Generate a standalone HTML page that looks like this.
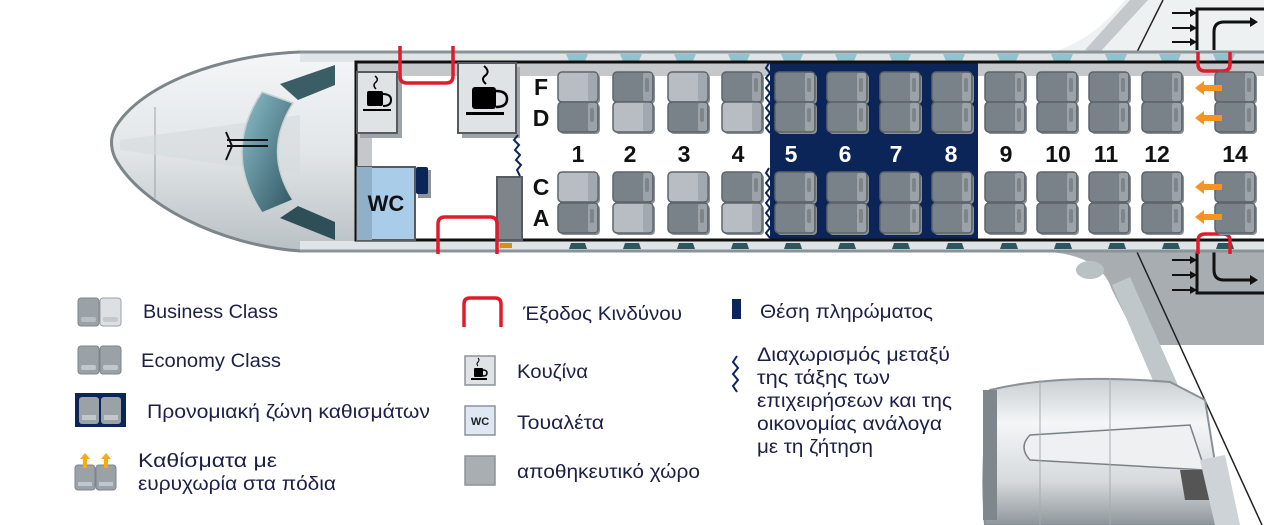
<!DOCTYPE html>
<html><head><meta charset="utf-8"><style>
html,body{margin:0;padding:0;background:#fff;width:1264px;height:525px;overflow:hidden}
svg{display:block}
.n{font-family:"Liberation Sans",sans-serif;font-weight:bold;font-size:23px;text-anchor:middle}
.l{font-family:"Liberation Sans","DejaVu Sans",sans-serif;font-size:19px;fill:#1c2048}
.g{font-family:"Liberation Sans","DejaVu Sans",sans-serif;font-size:19px;fill:#1c2048}
</style></head><body>
<svg width="1264" height="525" viewBox="0 0 1264 525" xmlns="http://www.w3.org/2000/svg">
<defs>
<linearGradient id="nose" x1="0" y1="0" x2="0" y2="1"><stop offset="0" stop-color="#f4f6f7"/><stop offset="0.5" stop-color="#e2e6e8"/><stop offset="1" stop-color="#b9c0c4"/></linearGradient>
<linearGradient id="wind" x1="0" y1="0" x2="1" y2="1"><stop offset="0" stop-color="#8cc0cc"/><stop offset="1" stop-color="#2f5560"/></linearGradient>
<linearGradient id="eng" x1="0" y1="0" x2="0" y2="1"><stop offset="0" stop-color="#c9ced2"/><stop offset="0.3" stop-color="#f4f6f7"/><stop offset="0.7" stop-color="#d6dadd"/><stop offset="1" stop-color="#8f969b"/></linearGradient>
<g id="se"><rect x="2" y="2" width="40" height="30" rx="4" fill="#8a9096"/><rect x="0" y="0" width="40" height="30" rx="4" fill="#7a8289" stroke="#5c646a" stroke-width="1.5"/><rect x="30" y="1" width="9" height="28" rx="2" fill="#9ba2a8"/><rect x="32" y="6" width="4" height="14" rx="2" fill="#7d858b"/></g>
<g id="sl"><rect x="2" y="2" width="40" height="30" rx="4" fill="#8a9096"/><rect x="0" y="0" width="40" height="30" rx="4" fill="#b8bdc4" stroke="#5c646a" stroke-width="1.5"/><rect x="30" y="1" width="9" height="28" rx="2" fill="#a2a8af"/></g>
</defs>

<!-- top wing -->
<path d="M1040 56 C1080 45 1100 30 1125 0 L1264 0 L1264 56 Z" fill="#eef1f2"/>
<path d="M1085 50 L1130 0 L1148 0 L1100 52 Z" fill="#c2c8cc"/>
<line x1="1137" y1="52" x2="1163" y2="0" stroke="#222" stroke-width="1.5"/>
<path d="M1197 50 L1197 9 L1264 9" fill="none" stroke="#111" stroke-width="3"/>
<path d="M1214 50 L1214 32 Q1214 22 1224 22 L1250 22" fill="none" stroke="#111" stroke-width="3"/>
<path d="M1250 17 L1258 22 L1250 27 Z" fill="#111"/>
<g stroke="#111" stroke-width="2"><line x1="1172" y1="13" x2="1192" y2="13"/><line x1="1172" y1="28" x2="1192" y2="28"/><line x1="1172" y1="42" x2="1192" y2="42"/></g>
<g fill="#111"><path d="M1190 9 L1197 13 L1190 17Z"/><path d="M1190 24 L1197 28 L1190 32Z"/><path d="M1190 38 L1197 42 L1190 46Z"/></g>

<!-- bottom wing -->
<path d="M1050 252 C1085 255 1105 268 1112 290 L1140 345 L1264 345 L1264 252 Z" fill="#a8adb1"/>
<path d="M1112 285 L1130 277 L1240 525 L1215 525 Z" fill="#c0c7cb"/>
<ellipse cx="1090" cy="270" rx="14" ry="9" fill="#b9c1c5"/>
<line x1="1137" y1="252" x2="1262" y2="525" stroke="#222" stroke-width="1.5"/>
<path d="M1197 252 L1197 293 L1264 293" fill="none" stroke="#111" stroke-width="3"/>
<path d="M1214 252 L1214 270 Q1214 280 1224 280 L1250 280" fill="none" stroke="#111" stroke-width="3"/>
<path d="M1250 275 L1258 280 L1250 285 Z" fill="#111"/>
<g stroke="#111" stroke-width="2"><line x1="1172" y1="260" x2="1192" y2="260"/><line x1="1172" y1="275" x2="1192" y2="275"/><line x1="1172" y1="290" x2="1192" y2="290"/></g>
<g fill="#111"><path d="M1190 256 L1197 260 L1190 264Z"/><path d="M1190 271 L1197 275 L1190 279Z"/><path d="M1190 286 L1197 290 L1190 294Z"/></g>
<!-- engine -->
<path d="M990 390 Q1060 373 1170 382 L1205 400 L1225 525 L985 525 Q980 460 990 390 Z" fill="url(#eng)" stroke="#8a9196" stroke-width="2"/>
<rect x="983" y="390" width="14" height="130" fill="#7f878c"/>
<path d="M1030 435 L1190 425 L1205 470 L1030 460 Q1018 447 1030 435 Z" fill="#eef0f1" stroke="#7a8186" stroke-width="1.5"/>
<line x1="1040" y1="380" x2="1040" y2="525" stroke="#a5acb0"/><line x1="1110" y1="378" x2="1110" y2="525" stroke="#a5acb0"/>
<path d="M1180 470 L1205 470 L1215 500 L1185 500 Z" fill="#555"/>
<path d="M1200 460 L1225 455 L1240 525 L1215 525 Z" fill="#cdd3d6"/>

<!-- nose -->
<path d="M360 52 L300 52 C220 55 140 85 115 128 Q108 142 115 158 C140 205 220 245 300 251 L360 251 Z" fill="url(#nose)" stroke="#7c858a" stroke-width="3"/>
<line x1="155" y1="107" x2="155" y2="198" stroke="#9aa2a6" stroke-width="1"/>
<path d="M120 140 L300 115 L300 175 L120 150 Z" fill="#d6dbde" opacity="0.6"/>
<path d="M262 92 L293 103 Q262 152 293 200 L262 213 Q222 152 262 92 Z" fill="url(#wind)" stroke="#c9d0d3" stroke-width="1.5"/>
<path d="M280 84 L335 65 L335 85 L298 100 Z" fill="#3b5d66"/>
<path d="M280 218 L335 240 L335 222 L298 206 Z" fill="#2e4f58"/>
<path d="M227 140 L268 140 M227 146 L268 146 M226 132 L232 146 L226 160" fill="none" stroke="#111" stroke-width="2"/>

<!-- fuselage strips -->
<rect x="300" y="52" width="964" height="10" fill="#dfe4e6"/>
<line x1="300" y1="52" x2="1264" y2="52" stroke="#8a9398" stroke-width="3"/>
<rect x="300" y="241" width="964" height="10" fill="#dfe4e6"/>
<line x1="300" y1="251" x2="1264" y2="251" stroke="#8a9398" stroke-width="3"/>
<g fill="#8fc3d0">
<path d="M566 54 h22 l-3 7 h-16z"/><path d="M620 54 h22 l-3 7 h-16z"/><path d="M674 54 h22 l-3 7 h-16z"/><path d="M728 54 h22 l-3 7 h-16z"/><path d="M781 54 h22 l-3 7 h-16z"/><path d="M835 54 h22 l-3 7 h-16z"/><path d="M889 54 h22 l-3 7 h-16z"/><path d="M943 54 h22 l-3 7 h-16z"/><path d="M997 54 h22 l-3 7 h-16z"/><path d="M1051 54 h22 l-3 7 h-16z"/><path d="M1105 54 h22 l-3 7 h-16z"/><path d="M1159 54 h22 l-3 7 h-16z"/><path d="M1213 54 h22 l-3 7 h-16z"/>
</g>
<g fill="#2d5660">
<path d="M569 249 h18 l-2 -6 h-14z"/><path d="M623 249 h18 l-2 -6 h-14z"/><path d="M677 249 h18 l-2 -6 h-14z"/><path d="M731 249 h18 l-2 -6 h-14z"/><path d="M784 249 h18 l-2 -6 h-14z"/><path d="M838 249 h18 l-2 -6 h-14z"/><path d="M892 249 h18 l-2 -6 h-14z"/><path d="M946 249 h18 l-2 -6 h-14z"/><path d="M1000 249 h18 l-2 -6 h-14z"/><path d="M1054 249 h18 l-2 -6 h-14z"/><path d="M1108 249 h18 l-2 -6 h-14z"/><path d="M1162 249 h18 l-2 -6 h-14z"/><path d="M1216 249 h18 l-2 -6 h-14z"/>
</g>

<!-- cabin -->
<rect x="356" y="63" width="908" height="177" fill="#fff"/>
<rect x="356" y="63" width="908" height="13" fill="#c4c8cb"/>
<rect x="356" y="63" width="16" height="177" fill="#c4c8cb"/>
<rect x="770" y="63" width="208" height="177" fill="#0c2558"/>
<path d="M1264 62 L356 62 L356 240 L1264 240" fill="none" stroke="#111" stroke-width="3"/>

<!-- galleys -->
<rect x="360" y="76" width="42" height="62" fill="#9ea4a8"/>
<rect x="357" y="72" width="40" height="61" fill="#dfe3e6" stroke="#555b60" stroke-width="2"/>
<rect x="462" y="67" width="58" height="71" fill="#9ea4a8"/>
<rect x="458" y="63" width="58" height="70" fill="#dfe3e6" stroke="#555b60" stroke-width="2"/>
<g fill="#000">
<rect x="367" y="91" width="16" height="15" rx="2"/><path d="M383 94 q8 0 8 6 q0 6 -8 6" fill="none" stroke="#000" stroke-width="2"/><rect x="363" y="109" width="28" height="2"/><path d="M376 89 q-4 -4 0 -7 q3 -3 -1 -6" fill="none" stroke="#000" stroke-width="1.5"/>
<rect x="472" y="87" width="24" height="22" rx="3"/><path d="M496 91 q11 0 11 8 q0 8 -11 8" fill="none" stroke="#000" stroke-width="2.5"/><rect x="466" y="112" width="38" height="3"/><path d="M486 84 q-6 -5 0 -9 q4 -4 -2 -9" fill="none" stroke="#000" stroke-width="2"/>
</g>
<!-- WC -->
<rect x="357" y="167" width="58" height="73" fill="#a9cde8" stroke="#555b60" stroke-width="2"/>
<rect x="357" y="167" width="15" height="73" fill="#8fb0c8"/>
<text x="386" y="211" font-family="Liberation Sans,sans-serif" font-weight="bold" font-size="22" text-anchor="middle" fill="#111">WC</text>
<rect x="418" y="170" width="13" height="28" fill="#8d9398"/>
<rect x="416" y="167" width="12" height="27" rx="2" fill="#0c2558"/>
<rect x="497" y="177" width="25" height="63" fill="#7d858b" stroke="#555b60" stroke-width="2"/>
<rect x="500" y="243" width="12" height="5" fill="#d88f1a"/>
<path d="M518 135 l-4 5 l5 5 l-4 5 l5 5 l-4 5 l5 5 l-4 5 l3 6" fill="none" stroke="#0c2558" stroke-width="2"/>
<!-- exits -->
<path d="M400 46 L400 76 Q400 83 407 83 L446 83 Q453 83 453 76 L453 46" fill="none" stroke="#e01b2a" stroke-width="3.5"/>
<path d="M438 254 L438 224 Q438 217 445 217 L490 217 Q497 217 497 224 L497 254" fill="none" stroke="#e01b2a" stroke-width="3.5"/>
<path d="M1198 52 L1198 64 Q1198 71 1205 71 L1223 71 Q1230 71 1230 64 L1230 52" fill="none" stroke="#e01b2a" stroke-width="3.5"/>
<path d="M1198 254 L1198 241 Q1198 234 1205 234 L1223 234 Q1230 234 1230 241 L1230 254" fill="none" stroke="#e01b2a" stroke-width="3.5"/>

<!-- separators -->
<g fill="none" stroke="#0c2558" stroke-width="2">
<path d="M769 63 l-3 5 l4 5 l-4 5 l4 5 l-4 5 l4 5 l-4 5 l4 5 l-4 5 l4 5 l-4 5 l4 5 l-4 5 l4 5"/>
<path d="M769 168 l-3 5 l4 5 l-4 5 l4 5 l-4 5 l4 5 l-4 5 l4 5 l-4 5 l4 5 l-4 5 l4 5 l-4 5 l4 5"/>
</g>

<!-- seats -->
<g>
<use href="#sl" x="558" y="72"/><use href="#se" x="558" y="102"/><use href="#sl" x="558" y="172"/><use href="#se" x="558" y="203"/>
<use href="#se" x="613" y="72"/><use href="#sl" x="613" y="102"/><use href="#se" x="613" y="172"/><use href="#sl" x="613" y="203"/>
<use href="#sl" x="668" y="72"/><use href="#se" x="668" y="102"/><use href="#sl" x="668" y="172"/><use href="#se" x="668" y="203"/>
<use href="#se" x="722" y="72"/><use href="#sl" x="722" y="102"/><use href="#se" x="722" y="172"/><use href="#sl" x="722" y="203"/>
<use href="#se" x="775" y="72"/><use href="#se" x="775" y="102"/><use href="#se" x="775" y="172"/><use href="#se" x="775" y="203"/>
<use href="#se" x="827" y="72"/><use href="#se" x="827" y="102"/><use href="#se" x="827" y="172"/><use href="#se" x="827" y="203"/>
<use href="#se" x="880" y="72"/><use href="#se" x="880" y="102"/><use href="#se" x="880" y="172"/><use href="#se" x="880" y="203"/>
<use href="#se" x="932" y="72"/><use href="#se" x="932" y="102"/><use href="#se" x="932" y="172"/><use href="#se" x="932" y="203"/>
<use href="#se" x="985" y="72"/><use href="#se" x="985" y="102"/><use href="#se" x="985" y="172"/><use href="#se" x="985" y="203"/>
<use href="#se" x="1037" y="72"/><use href="#se" x="1037" y="102"/><use href="#se" x="1037" y="172"/><use href="#se" x="1037" y="203"/>
<use href="#se" x="1089" y="72"/><use href="#se" x="1089" y="102"/><use href="#se" x="1089" y="172"/><use href="#se" x="1089" y="203"/>
<use href="#se" x="1142" y="72"/><use href="#se" x="1142" y="102"/><use href="#se" x="1142" y="172"/><use href="#se" x="1142" y="203"/>
<use href="#se" x="1215" y="72"/><use href="#se" x="1215" y="102"/><use href="#se" x="1215" y="172"/><use href="#se" x="1215" y="203"/>
</g>
<g fill="#f7931e">
<path d="M1195 88 l9 -7 v4 h18 v6 h-18 v4z"/><path d="M1195 118 l9 -7 v4 h18 v6 h-18 v4z"/><path d="M1195 187 l9 -7 v4 h18 v6 h-18 v4z"/><path d="M1195 217 l9 -7 v4 h18 v6 h-18 v4z"/>
</g>
<g class="n" fill="#111">
<text x="541" y="95">F</text><text x="541" y="126">D</text><text x="541" y="195">C</text><text x="541" y="226">A</text>
<text x="578" y="162">1</text><text x="630" y="162">2</text><text x="684" y="162">3</text><text x="738" y="162">4</text>
<text x="1006" y="162">9</text><text x="1058" y="162">10</text><text x="1106" y="162">11</text><text x="1157" y="162">12</text><text x="1235" y="162">14</text>
</g>
<g class="n" fill="#fff"><text x="791" y="162">5</text><text x="845" y="162">6</text><text x="896" y="162">7</text><text x="951" y="162">8</text></g>

<!-- legend -->
<g>
<rect x="78" y="298" width="21" height="28" rx="3" fill="#9aa1a7" stroke="#7d858b"/><rect x="100" y="298" width="21" height="28" rx="3" fill="#dde0e3" stroke="#9aa1a7"/>
<rect x="81" y="317" width="15" height="5" rx="2" fill="#b9bec3"/><rect x="103" y="317" width="15" height="5" rx="2" fill="#c5c9cd"/>
<rect x="78" y="346" width="21" height="28" rx="3" fill="#9aa1a7" stroke="#7d858b"/><rect x="100" y="346" width="21" height="28" rx="3" fill="#9aa1a7" stroke="#7d858b"/>
<rect x="81" y="365" width="15" height="5" rx="2" fill="#c2c7cb"/><rect x="103" y="365" width="15" height="5" rx="2" fill="#c2c7cb"/>
<rect x="75" y="393" width="51" height="34" fill="#0c2558"/>
<rect x="79" y="397" width="20" height="27" rx="3" fill="#9aa1a7"/><rect x="101" y="397" width="20" height="27" rx="3" fill="#9aa1a7"/>
<rect x="82" y="415" width="14" height="5" fill="#c2c7cb"/><rect x="104" y="415" width="14" height="5" fill="#c2c7cb"/>
<rect x="75" y="465" width="20" height="25" rx="3" fill="#9aa1a7" stroke="#7d858b"/><rect x="96" y="465" width="20" height="25" rx="3" fill="#9aa1a7" stroke="#7d858b"/>
<rect x="78" y="482" width="14" height="4" fill="#c2c7cb"/><rect x="99" y="482" width="14" height="4" fill="#c2c7cb"/>
<path d="M85 453 l5 6 h-3 v9 h-4 v-9 h-3z M106 453 l5 6 h-3 v9 h-4 v-9 h-3z" fill="#f7a81b"/>
<text class="l" x="143" y="318" textLength="135" lengthAdjust="spacingAndGlyphs">Business Class</text>
<text class="l" x="141" y="367" textLength="140" lengthAdjust="spacingAndGlyphs">Economy Class</text>
<text class="l" x="147" y="418" textLength="283" lengthAdjust="spacingAndGlyphs">Προνομιακή ζώνη καθισμάτων</text>
<text class="l" x="138" y="467" textLength="139" lengthAdjust="spacingAndGlyphs">Καθίσματα με</text>
<text class="l" x="138" y="490" textLength="198" lengthAdjust="spacingAndGlyphs">ευρυχωρία στα πόδια</text>

<path d="M464 327 L464 304 Q464 298 470 298 L495 298 Q501 298 501 304 L501 327" fill="none" stroke="#e01b2a" stroke-width="3.5"/>
<text class="l" x="523" y="320" textLength="159" lengthAdjust="spacingAndGlyphs">Έξοδος Κινδύνου</text>
<rect x="465" y="356" width="30" height="29" fill="#dfe3e6" stroke="#8d9398" stroke-width="1.5"/>
<rect x="474" y="368" width="9" height="9" rx="1"/><path d="M483 370 q4 0 4 3 q0 3 -4 3" fill="none" stroke="#000" stroke-width="1.5"/><rect x="471" y="378" width="16" height="2"/><path d="M478 366 q-2 -2 0 -4 q2 -2 0 -4" fill="none" stroke="#000" stroke-width="1"/>
<text class="l" x="517" y="378" textLength="71" lengthAdjust="spacingAndGlyphs">Κουζίνα</text>
<rect x="465" y="406" width="30" height="29" fill="#dde8f4" stroke="#8d9398" stroke-width="1.5"/>
<text x="480" y="425" font-family="Liberation Sans,sans-serif" font-size="11" font-weight="bold" text-anchor="middle" fill="#222">WC</text>
<text class="l" x="517" y="429" textLength="87" lengthAdjust="spacingAndGlyphs">Τουαλέτα</text>
<rect x="465" y="456" width="30" height="29" fill="#a9aeb2" stroke="#8d9398" stroke-width="1.5"/>
<text class="l" x="517" y="478" textLength="183" lengthAdjust="spacingAndGlyphs">αποθηκευτικό χώρο</text>

<rect x="732" y="299" width="9" height="20" fill="#0c2558"/>
<text class="l" x="760" y="318" textLength="173" lengthAdjust="spacingAndGlyphs">Θέση πληρώματος</text>
<path d="M737 356 l-4 6 l5 6 l-5 6 l5 6 l-5 6 l4 6" fill="none" stroke="#0c2558" stroke-width="2"/>
<text class="g" x="757" y="361" textLength="193" lengthAdjust="spacingAndGlyphs">Διαχωρισμός μεταξύ</text>
<text class="g" x="757" y="384" textLength="133" lengthAdjust="spacingAndGlyphs">της τάξης των</text>
<text class="g" x="757" y="407" textLength="195" lengthAdjust="spacingAndGlyphs">επιχειρήσεων και της</text>
<text class="g" x="757" y="430" textLength="185" lengthAdjust="spacingAndGlyphs">οικονομίας ανάλογα</text>
<text class="g" x="757" y="453" textLength="116" lengthAdjust="spacingAndGlyphs">με τη ζήτηση</text>
</g>
</svg>
</body></html>
